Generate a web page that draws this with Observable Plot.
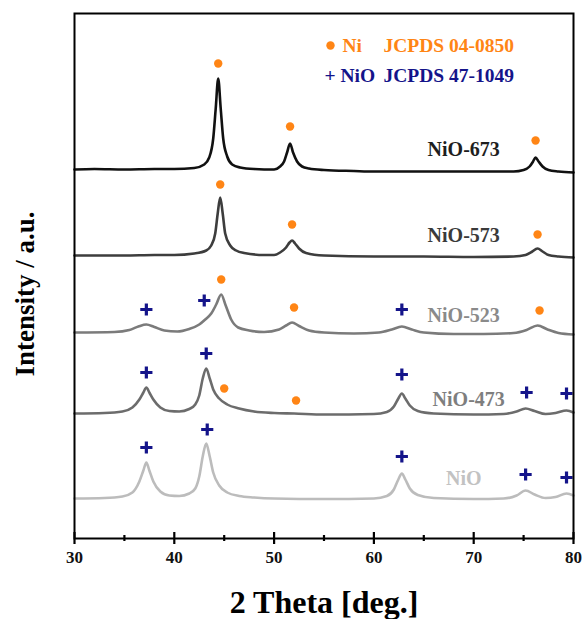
<!DOCTYPE html>
<html>
<head>
<meta charset="utf-8">
<script src="https://cdn.jsdelivr.net/npm/d3@7"></script>
<script src="https://cdn.jsdelivr.net/npm/@observablehq/plot@0.6"></script>
<style>
  html, body { margin: 0; padding: 0; background: #fff; }
  #chart svg { display: block; }
</style>
</head>
<body>
<div id="chart"></div>
<script>
// ---- Data (2θ in degrees, stacked intensity in a.u.) ----
const seriesNames = ["NiO-673", "NiO-573", "NiO-523", "NiO-473", "NiO"];

const trace673 = [
  [30,369],[32,369.5],[35,369],[38,369.5],[40,369.5],[42,370.5],[43,374],[43.5,381],[43.9,400],[44.15,430],[44.4,460],
  [44.65,430],[44.9,400],[45.3,382],[45.8,374],[46.6,371],[48,369.5],[50,369],[50.6,372],[51.0,377],[51.3,386],
  [51.6,395],[51.9,386],[52.3,377],[52.8,372],[53.5,370],[55,368.5],[58,367.5],[60,367],[65,367],[70,367],
  [74,367],[75.0,368.5],[75.6,372],[75.95,377],[76.2,381],[76.5,377],[76.9,372],[77.5,368.5],[78.5,367],[80,366]
];
const trace573 = [
  [30,283],[35,283],[38,283.5],[40,283.5],[42,285],[43.2,288],[43.7,293],[44.1,305],[44.35,325],[44.6,341],
  [44.85,325],[45.1,305],[45.6,293],[46.2,288],[47,285.5],[49,283.5],[50,283.5],[50.6,286],[51.2,291],[51.55,296],
  [51.8,298],[52.1,295],[52.5,290],[53.2,285.5],[55,283],[60,282],[65,282],[70,281.5],[74,282],[75.2,283.5],
  [75.8,286.5],[76.4,290],[76.9,287],[77.5,283.5],[78.5,282],[80,281]
];
const trace523 = [
  [30,206],[34,206.5],[35.5,208.5],[36.4,212],[37.2,214],[38.0,211.5],[39,208],[40.3,207],[41.5,209.5],[42.5,214],
  [43.1,219],[43.7,225],[44.2,234],[44.7,244],[45.15,233],[45.7,219],[46.4,211],[47.5,208],[49,206.5],[50.5,209],
  [51.2,213],[51.8,216],[52.5,212.5],[53.5,208],[55,206],[58,205],[60.5,206],[61.8,209],[62.8,212],[63.8,209],
  [65,206],[68,204.5],[71,204.5],[74,205.5],[75.3,208.5],[76.4,213],[77.4,209],[78.5,205.5],[80,204]
];
const trace473 = [
  [30,125],[33,125.5],[34.8,127],[35.8,131],[36.5,139],[36.9,146],[37.2,151],[37.5,146],[37.9,139],[38.6,131],
  [39.5,127.5],[40.5,127],[41.5,129.5],[42.1,134],[42.5,143],[42.85,160],[43.2,170],[43.55,160],[43.9,149],[44.5,140],
  [45.3,134],[46.5,130],[48,127],[50,125.5],[52,125],[55,124],[60,124.5],[61.3,126.5],[62.0,132],[62.45,140],
  [62.8,145],[63.15,140],[63.6,133],[64.4,127.5],[66,125],[70,124],[73,124.5],[74.3,127],[75.2,130],[76.1,127.5],
  [77.2,124.5],[78.2,125.5],[79.3,128],[80,126]
];
const traceNiO = [
  [30,40],[33,40.5],[34.8,42],[35.8,46],[36.5,57],[36.9,68],[37.2,76],[37.5,68],[37.9,57],[38.6,47],
  [39.5,43],[40.5,42.5],[41.5,45],[42.1,50],[42.5,62],[42.85,82],[43.2,95],[43.55,82],[43.9,66],[44.5,53],
  [45.3,46],[46.5,42.5],[48,41],[50,40],[55,39.5],[60,40],[61.3,42.5],[62.0,49],[62.45,59],[62.8,65],
  [63.15,59],[63.6,50],[64.4,43.5],[66,40.5],[70,39.5],[73,40],[74.3,43],[75.2,48],[76.1,44],[77.2,40.5],
  [78.2,41.5],[79.3,45],[80,43]
];

// Phase markers: [2θ, intensity]
const niMarkers = [
  [44.4,475],[51.6,412],[76.2,398],
  [44.6,354],[51.8,314],[76.4,304],
  [44.7,259],[52.0,231],[76.6,228],
  [45.0,150],[52.2,138]
];
const nioMarkers = [
  [37.2,229],[43.0,238],[62.8,229],
  [37.2,166],[43.2,185],[62.8,164],[75.3,146],[79.3,145],
  [37.2,91],[43.3,109],[62.8,82],[75.2,64],[79.3,61]
];

// Sample labels: [text, 2θ, intensity]
const sampleLabels = [
  ["NiO-673", 69.0, 389],
  ["NiO-573", 69.0, 303],
  ["NiO-523", 69.0, 223],
  ["NiO-473", 69.5, 139],
  ["NiO", 69.0, 60]
];

const majorTicks = [30, 40, 50, 60, 70, 80];
const minorTicks = [35, 45, 55, 65, 75];

// ---- Styles ----
const lineColors = ["#111111", "#3d3d3d", "#7b7b7b", "#6c6c6c", "#bcbcbc"];
const labelColors = ["#1e1e1e", "#3a3a3a", "#8a8a8a", "#7e7e7e", "#c2c2c2"];
const traces = [trace673, trace573, trace523, trace473, traceNiO];
const orange = "#ff8515";
const navy = "#14148a";
const font = "'Liberation Serif', 'DejaVu Serif', serif";

const lineMarks = traces.map((t, i) => Plot.line(t, {
  x: d => d[0], y: d => d[1], stroke: lineColors[i], strokeWidth: 2.6, curve: "monotone-x"
}));

const labelMarks = sampleLabels.map((l, i) => Plot.text([l], {
  x: d => d[1], y: d => d[2], text: d => d[0], fill: labelColors[i],
  fontSize: 20, fontWeight: "bold", textAnchor: "middle", lineAnchor: "middle"
}));

const legendText = (txt, dx, dy, color) => Plot.text([txt], {
  frameAnchor: "top-left", dx, dy, text: d => d, fill: color,
  fontSize: 19.5, fontWeight: "bold", textAnchor: "start", lineAnchor: "middle"
});

const chart = Plot.plot({
  width: 585,
  height: 619,
  marginTop: 13,
  marginBottom: 81,
  marginLeft: 74,
  marginRight: 12,
  style: { fontFamily: font, background: "#fff", overflow: "visible" },
  x: { domain: [30, 80] },
  y: { domain: [0, 525], axis: null },
  marks: [
    ...lineMarks,
    Plot.dot(niMarkers, { x: d => d[0], y: d => d[1], r: 4.2, fill: orange, stroke: "none" }),
    Plot.dot(nioMarkers, { x: d => d[0], y: d => d[1], r: 4, symbol: "plus", stroke: navy, strokeWidth: 3.2 }),
    ...labelMarks,
    // legend
    Plot.dot([0], { frameAnchor: "top-left", dx: 256, dy: 32, r: 4.2, fill: orange, stroke: "none" }),
    legendText("Ni", 268, 32, orange),
    legendText("JCPDS 04-0850", 309, 32, orange),
    legendText("+ NiO", 250, 62, navy),
    legendText("JCPDS 47-1049", 309, 62, navy),
    // axes
    Plot.frame({ stroke: "#000", strokeWidth: 2 }),
    // major ticks: outward part from the axis, inward part from rule marks
    Plot.axisX({ ticks: majorTicks, tickSize: 6, tickPadding: 6, tickFormat: d => String(d),
      stroke: "#000", strokeWidth: 2.2,
      fontSize: 17, fontWeight: "bold", fill: "#111", label: null }),
    Plot.axisX({ ticks: minorTicks, tickSize: 3, tickFormat: () => "", stroke: "#000", strokeWidth: 2.2, label: null }),
    Plot.ruleX(majorTicks, { x: d => d, y1: 0, y2: 6, stroke: "#000", strokeWidth: 2.2 }),
    Plot.ruleX(minorTicks, { x: d => d, y1: 0, y2: 3, stroke: "#000", strokeWidth: 2.2 }),
    Plot.text(["2 Theta [deg.]"], { frameAnchor: "bottom", dy: 74, text: d => d, fill: "#000",
      fontSize: 32, fontWeight: "bold", textAnchor: "middle", lineAnchor: "bottom" }),
    Plot.text(["Intensity / a.u."], { frameAnchor: "left", dx: -41, dy: 18, rotate: -90, text: d => d, fill: "#000",
      fontSize: 27, fontWeight: "bold", textAnchor: "middle", lineAnchor: "bottom" })
  ]
});

document.getElementById("chart").appendChild(chart);
</script>
</body>
</html>
